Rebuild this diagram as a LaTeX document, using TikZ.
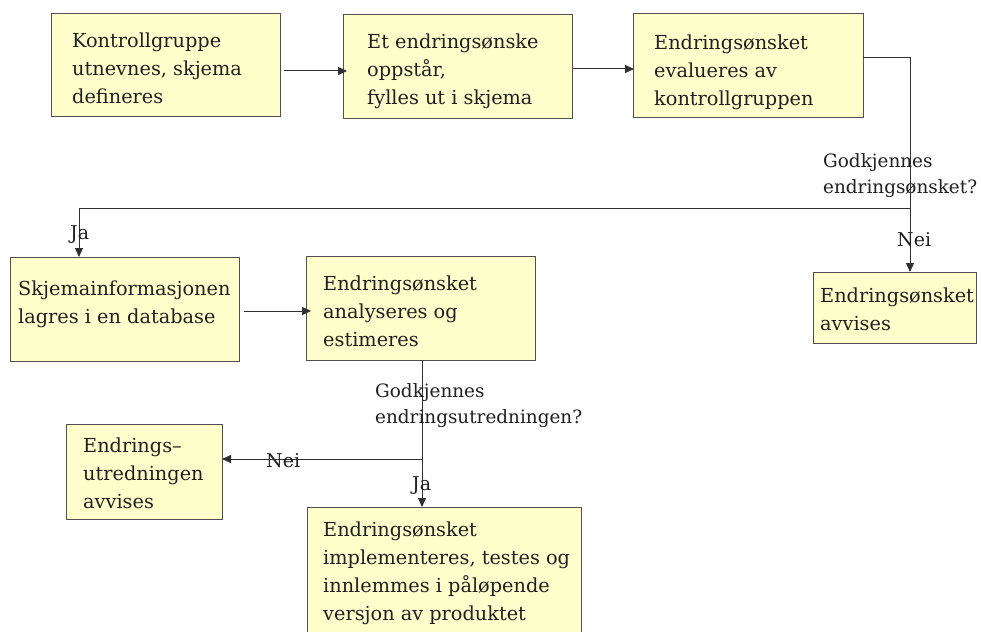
\documentclass[tikz,border=0pt]{standalone}
\usepackage{fontspec}
\setmainfont{DejaVu Serif}
\usetikzlibrary{arrows.meta}
\definecolor{boxfill}{HTML}{FFFFCC}
\definecolor{boxline}{HTML}{505050}
\definecolor{wire}{HTML}{303030}
\definecolor{ink}{HTML}{202020}
\tikzset{
  stagebox/.style={draw=boxline, fill=boxfill, line width=1pt, inner sep=0pt, outer sep=0pt, anchor=north west},
  boxtext/.style={anchor=north west, inner sep=0pt, align=left, text=ink,
    font=\fontsize{19.3}{28}\selectfont},
  question/.style={anchor=north west, inner sep=0pt, align=left, text=ink,
    font=\fontsize{18.4}{26}\selectfont},
  wirelabel/.style={anchor=north west, inner sep=0pt, text=ink, font=\fontsize{19}{22}\selectfont},
  wireline/.style={draw=wire, line width=1pt},
  arr/.style={wireline, -{Triangle[length=9pt,width=8pt]}},
}
\begin{document}
\begin{tikzpicture}[x=1pt, y=-1pt]
  \useasboundingbox (0,0) rectangle (981,631);
  \clip (0,0) rectangle (981,631);
  \fill[white] (0,0) rectangle (981,631);

  % process boxes
  \node[stagebox, minimum width=229pt, minimum height=103pt] (b1) at (51,14) {};
  \node[stagebox, minimum width=229pt, minimum height=104pt] (b2) at (343,15) {};
  \node[stagebox, minimum width=230pt, minimum height=104pt] (b3) at (633,14) {};
  \node[stagebox, minimum width=229pt, minimum height=104pt] (b4) at (10,257) {};
  \node[stagebox, minimum width=229pt, minimum height=104pt] (b5) at (306,256) {};
  \node[stagebox, minimum width=163pt, minimum height=71pt] (b6) at (813,272) {};
  \node[stagebox, minimum width=156pt, minimum height=95pt] (b8) at (66,424) {};
  \node[stagebox, minimum width=274pt, minimum height=140pt] (b7) at (307,507) {};

  % box texts
  \node[boxtext] (t1) at (72,33) {Kontrollgruppe\\utnevnes, skjema\\defineres};
  \node[boxtext] (t2) at (367,34) {Et endringsønske\\oppstår,\\fylles ut i skjema};
  \node[boxtext] (t3) at (654,35) {Endringsønsket\\evalueres av\\kontrollgruppen};
  \node[boxtext] (t4) at (18,281) {Skjemainformasjonen\\lagres i en database};
  \node[boxtext] (t5) at (323,276) {Endringsønsket\\analyseres og\\estimeres};
  \node[boxtext] (t6) at (820,288) {Endringsønsket\\avvises};
  \node[boxtext] (t8) at (83,438) {Endrings–\\utredningen\\avvises};
  \node[boxtext] (t7) at (323,522) {Endringsønsket\\implementeres, testes og\\innlemmes i påløpende\\versjon av produktet};

  % junctions
  \coordinate (j1) at (910,208);
  \coordinate (c1) at (79,208);
  \coordinate (j2) at (422,459);

  % connectors
  \draw[arr] ([xshift=4pt,yshift=-5.5pt]b1.east) -- ([xshift=4pt,yshift=-5.5pt]b1.east -| b2.west);
  \draw[arr] ([xshift=1pt,yshift=-2pt]b2.east) -- ([xshift=1pt,yshift=-2pt]b2.east -| b3.west);
  \draw[wireline] ([yshift=8pt]b3.east) -| (j1);
  \draw[arr] (j1) -- (j1 |- b6.north);
  \draw[wireline] (j1) -- (c1);
  \draw[arr] (c1) -- (c1 |- b4.north);
  \draw[arr] ([xshift=5pt,yshift=-2pt]b4.east) -- ([xshift=5pt,yshift=-2pt]b4.east -| b5.west);
  \draw[wireline] (b5.south -| j2) -- (j2);
  \draw[arr] (j2) -- (j2 |- b7.north);
  \draw[arr] (j2) -- (j2 -| b8.east);

  % decision labels
  \node[question] (q1) at (823,153) {Godkjennes\\endringsønsket?};
  \node[question] (q2) at (375,383) {Godkjennes\\endringsutredningen?};
  \node[wirelabel] (n1) at (897,232) {Nei};
  \node[wirelabel] (y1) at (70,225) {Ja};
  \node[wirelabel] (n2) at (266,453) {Nei};
  \node[wirelabel] (y2) at (412,476) {Ja};
\end{tikzpicture}
\end{document}
